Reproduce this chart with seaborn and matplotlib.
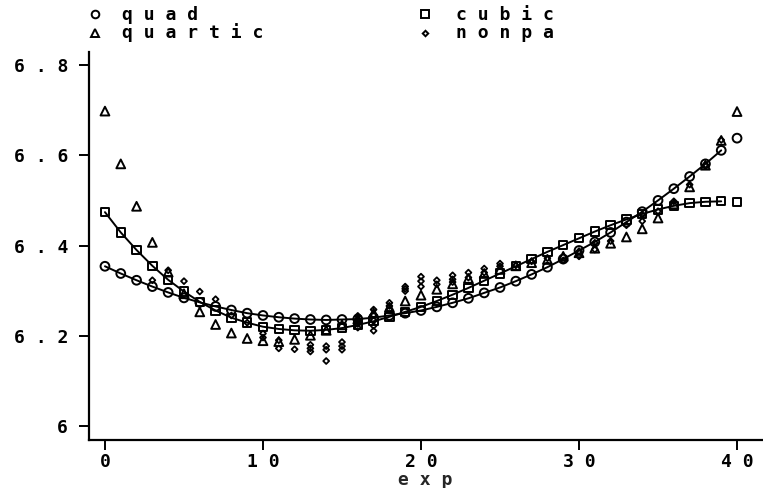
import matplotlib
matplotlib.use("Agg")
import matplotlib.pyplot as plt
from matplotlib.lines import Line2D
import seaborn as sns
import pandas as pd

# ---------------- data ----------------
exp_x = list(range(0, 41))

quad = [6.354, 6.338, 6.323, 6.309, 6.296, 6.284, 6.274, 6.265, 6.257, 6.250,
        6.245, 6.241, 6.238, 6.236, 6.235, 6.236, 6.237, 6.240, 6.245, 6.250,
        6.256, 6.264, 6.273, 6.283, 6.295, 6.307, 6.321, 6.336, 6.352, 6.370,
        6.389, 6.408, 6.429, 6.452, 6.475, 6.500, 6.526, 6.553, 6.581, 6.611,
        6.638]

cubic = [6.474, 6.429, 6.390, 6.355, 6.324, 6.298, 6.275, 6.256, 6.240, 6.229,
         6.220, 6.215, 6.212, 6.211, 6.213, 6.217, 6.224, 6.232, 6.242, 6.253,
         6.264, 6.277, 6.291, 6.306, 6.322, 6.338, 6.354, 6.370, 6.386, 6.401,
         6.416, 6.431, 6.445, 6.458, 6.470, 6.480, 6.488, 6.494, 6.497, 6.498,
         6.496]

quartic = [6.698, 6.581, 6.487, 6.407, 6.341, 6.293, 6.253, 6.225, 6.206, 6.194,
           6.189, 6.187, 6.192, 6.201, 6.212, 6.224, 6.237, 6.250, 6.263, 6.277,
           6.290, 6.303, 6.315, 6.327, 6.338, 6.347, 6.355, 6.362, 6.369, 6.376,
           6.384, 6.394, 6.405, 6.419, 6.437, 6.461, 6.492, 6.530, 6.578, 6.633,
           6.697]

nonpa_x = [3, 4, 5, 6, 7, 8, 9, 10, 10, 11, 11, 12, 13, 13, 13, 14, 14, 14,
           15, 15, 15, 16, 16, 16, 16, 17, 17, 17, 17, 17, 18, 18, 18,
           19, 19, 19, 20, 20, 20, 21, 21, 22, 22, 22, 23, 23, 24, 24, 25, 25,
           26, 27, 28, 29, 30, 30, 31, 31, 32, 33, 34, 34, 35, 36, 37, 38, 39]
nonpa_y = [6.323, 6.345, 6.321, 6.298, 6.281, 6.245, 6.229, 6.196, 6.205, 6.172, 6.190,
           6.170, 6.165, 6.172, 6.180, 6.177, 6.169, 6.144,
           6.186, 6.177, 6.169, 6.218, 6.226, 6.234, 6.244, 6.211, 6.222, 6.234, 6.246, 6.258,
           6.258, 6.266, 6.273,
           6.299, 6.304, 6.309, 6.331, 6.321, 6.309, 6.323, 6.314, 6.334, 6.325, 6.319,
           6.340, 6.329, 6.349, 6.340, 6.360, 6.354,
           6.356, 6.365, 6.372, 6.367, 6.387, 6.376, 6.406, 6.391, 6.410, 6.445,
           6.468, 6.454, 6.476, 6.498, 6.535, 6.579, 6.634]

y_ticks = [6.0, 6.2, 6.4, 6.6, 6.8]
y_tick_labels = ["6", "6 . 2", "6 . 4", "6 . 6", "6 . 8"]
x_ticks = [0, 10, 20, 30, 40]
x_tick_labels = ["0", "1 0", "2 0", "3 0", "4 0"]
x_title = "e x p"
legend_labels = ["q u a d", "c u b i c", "q u a r t i c", "n o n p a"]

# ---------------- styling ----------------
sns.set_theme(style="white")
plt.rcParams["font.family"] = ["DejaVu Sans Mono", "DejaVu Sans"]
plt.rcParams["font.size"] = 13
plt.rcParams["font.weight"] = "bold"

W, H = 763, 488
fig = plt.figure(figsize=(W / 100, H / 100), dpi=100)
fig.patch.set_facecolor("white")
ax = fig.add_axes([89 / W, (H - 439.5) / H, (762 - 89) / W, (439.5 - 52) / H])
ax.set_facecolor("white")

lines_df = pd.DataFrame({"exp": exp_x, "quad": quad, "cubic": cubic, "quartic": quartic})
line_part = lines_df[lines_df["exp"] <= 39]

# connecting lines (quad and cubic)
sns.lineplot(data=line_part, x="exp", y="quad", ax=ax, color="black", lw=1.4,
             estimator=None, sort=True, zorder=2)
sns.lineplot(data=line_part, x="exp", y="cubic", ax=ax, color="black", lw=1.4,
             estimator=None, sort=True, zorder=2)

mk = dict(facecolor="none", edgecolor="black", linewidth=1.4, zorder=3)
sns.scatterplot(data=lines_df, x="exp", y="quad", ax=ax, marker="o", s=40, **mk)
sns.scatterplot(data=lines_df, x="exp", y="cubic", ax=ax, marker="s", s=36, **mk)
sns.scatterplot(data=lines_df, x="exp", y="quartic", ax=ax, marker="^", s=40, **mk)
nonpa_df = pd.DataFrame({"exp": nonpa_x, "nonpa": nonpa_y})
sns.scatterplot(data=nonpa_df, x="exp", y="nonpa", ax=ax, marker="D", s=9,
                facecolor="none", edgecolor="black", linewidth=1.3, zorder=4)

ax.set_xlim(-1.01, 41.58)
ax.set_ylim(5.970, 6.829)
ax.set_xticks(x_ticks)
ax.set_xticklabels(x_tick_labels)
ax.set_yticks(y_ticks)
ax.set_yticklabels(y_tick_labels)
ax.set_xlabel(x_title, labelpad=0, fontsize=13, fontweight="bold")
ax.set_ylabel("")

for s in ["top", "right"]:
    ax.spines[s].set_visible(False)
for s in ["left", "bottom"]:
    ax.spines[s].set_color("black")
    ax.spines[s].set_linewidth(1.6)
ax.tick_params(axis="both", direction="out", length=7, width=1.4, color="black",
               labelcolor="black", labelsize=13)
ax.tick_params(axis="y", pad=8, left=True)
ax.tick_params(axis="x", pad=3, bottom=True)
ax.grid(False)

# ---------------- legend (top, outside the axes) ----------------
entries = [
    (95, 14, "o", legend_labels[0], 122, 20),
    (425, 14, "s", legend_labels[1], 456, 20),
    (95, 33, "^", legend_labels[2], 122, 38),
    (425, 33, "D", legend_labels[3], 456, 38),
]
for mx, my, m, lab, tx, ty in entries:
    ms = 2.8 if m == "D" else 5.5
    fig.add_artist(Line2D([mx / W], [1 - my / H], transform=fig.transFigure,
                          marker=m, markersize=ms, markerfacecolor="none",
                          markeredgecolor="black", markeredgewidth=1.4, linestyle="none"))
    fig.text(tx / W, 1 - ty / H, lab, ha="left", va="baseline", fontsize=13,
             fontweight="bold", color="black")

fig.savefig("out.png", dpi=100, facecolor="white")
